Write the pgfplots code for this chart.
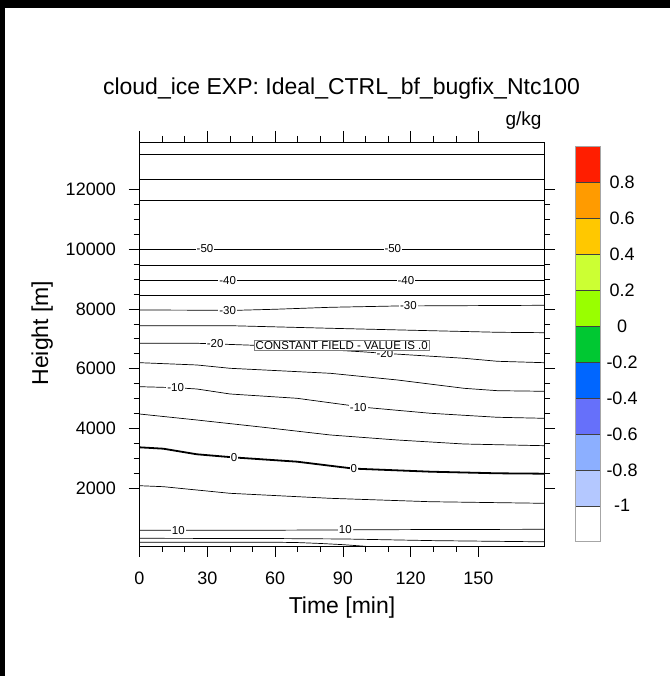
\documentclass[border=0pt]{standalone}
\usepackage{fontspec}
\setmainfont{Liberation Sans}
\usepackage{pgfplots}
\pgfplotsset{compat=1.18}

\definecolor{cbA}{RGB}{255,255,255}
\definecolor{cbB}{RGB}{180,200,255}
\definecolor{cbC}{RGB}{140,175,255}
\definecolor{cbD}{RGB}{102,112,250}
\definecolor{cbE}{RGB}{0,102,255}
\definecolor{cbF}{RGB}{0,200,50}
\definecolor{cbG}{RGB}{153,255,0}
\definecolor{cbH}{RGB}{204,255,51}
\definecolor{cbI}{RGB}{255,200,0}
\definecolor{cbJ}{RGB}{255,155,0}
\definecolor{cbK}{RGB}{255,30,0}

\newcommand{\clab}{\fontsize{11.5}{11.5}\selectfont}

\begin{document}
\begin{tikzpicture}[x=1pt,y=1pt]
\fill[black] (0,0) rectangle (670,676);
\fill[white] (4.5,0) rectangle (670,668);

\begin{axis}[
  at={(139.5pt,130pt)}, anchor=south west,
  width=404.5pt, height=404pt, scale only axis,
  xmin=0, xmax=179, ymin=50, ymax=13600,
  scaled x ticks=false, scaled y ticks=false,
  xtick={0,30,60,90,120,150}, xticklabels={0,30,60,90,120,150},
  ytick={2000,4000,6000,8000,10000,12000},
  yticklabels={2000,4000,6000,8000,10000,12000},
  minor x tick num=2, minor y tick num=3,
  tick align=outside,
  major tick length=11pt, minor tick length=6pt,
  every tick/.style={black, line width=0.6pt},
  axis line style={line width=0.8pt},
  tick label style={font=\fontsize{18}{18}\selectfont},
  xticklabel style={inner sep=0pt, anchor=north, yshift=-14.7pt},
  yticklabel style={inner sep=0pt, anchor=east, xshift=-12.5pt},
  clip=true,
]
% upper flat isotherms
\addplot[black, line width=0.8pt] coordinates {(0,13198) (179,13198)};
\addplot[black, line width=0.7pt] coordinates {(0,12349) (179,12349)};
\addplot[black, line width=0.7pt] coordinates {(0,11631) (179,11631)};
\addplot[black, line width=0.7pt] coordinates {(0,10011) (179,10011)}; % -50
\addplot[black, line width=0.7pt] coordinates {(0,9475) (179,9475)};
\addplot[black, line width=0.7pt] coordinates {(0,8962) (179,8962)};   % -40
\addplot[black, line width=0.7pt] coordinates {(0,8468) (179,8468)};
% -30
\addplot[black, line width=0.7pt] coordinates {(0,7965) (43,7955) (60,7990) (84.5,8056) (114,8100) (179,8123)};
% -25
\addplot[black, line width=0.7pt] coordinates {(0,7439) (40,7439) (84.5,7352) (128.8,7271) (158.4,7218) (179,7204)};
% -20
\addplot[black, line width=0.7pt] coordinates {(0,6849) (25.4,6849) (40.1,6810) (50.5,6782) (99.3,6560) (108.1,6513) (143.6,6346) (158.4,6245) (179,6198)};
% -15
\addplot[black, line width=0.7pt] coordinates {(0,6198) (25.4,6121) (40.1,6010) (84.5,5842) (114.1,5618) (143.6,5339) (158.4,5259) (179,5239)};
% -10
\addplot[black, line width=0.7pt] coordinates {(0,5393) (16,5360) (25.4,5316) (40.1,5148) (69.7,5004) (99.3,4702) (128.8,4501) (158.4,4367) (179,4333)};
% -5
\addplot[black, line width=0.7pt] coordinates {(0,4477) (25.4,4276) (54.9,4031) (84.5,3773) (114.1,3605) (143.6,3471) (179,3414)};
% 0 (thick)
\addplot[black, line width=1.8pt] coordinates {(0,3360) (10.6,3313) (25.4,3126) (41.9,3020) (69.7,2878) (94.8,2645) (128.8,2542) (158.4,2488) (179,2475)};
% 5
\addplot[black, line width=0.7pt] coordinates {(0,2072) (10.6,2039) (40.1,1817) (84.5,1649) (128.8,1535) (179,1482)};
% 10
\addplot[black, line width=0.7pt] coordinates {(0,577) (60,580) (120,600) (179,610)};
% 15
\addplot[black, line width=0.7pt] coordinates {(0,308) (60,300) (91,285) (130,230) (179,190)};
% 20
\addplot[black, line width=0.7pt] coordinates {(0,174) (62,174) (70,165) (80,135) (90,95) (100,40)};

% contour labels
\node[fill=white, inner sep=1pt, font=\clab] at (axis cs:29,10011) {-50};
\node[fill=white, inner sep=1pt, font=\clab] at (axis cs:112.1,10011) {-50};
\node[fill=white, inner sep=1pt, font=\clab] at (axis cs:39,8962) {-40};
\node[fill=white, inner sep=1pt, font=\clab] at (axis cs:117.9,8962) {-40};
\node[fill=white, inner sep=1pt, font=\clab] at (axis cs:39,7960) {-30};
\node[fill=white, inner sep=1pt, font=\clab] at (axis cs:119,8100) {-30};
\node[fill=white, inner sep=1pt, font=\clab] at (axis cs:33.5,6825) {-20};
\node[fill=white, inner sep=1pt, font=\clab] at (axis cs:108.6,6513) {-20};
\node[fill=white, inner sep=1pt, font=\clab] at (axis cs:16,5360) {-10};
\node[fill=white, inner sep=1pt, font=\clab] at (axis cs:96.8,4680) {-10};
\node[fill=white, inner sep=1pt, font=\clab] at (axis cs:41.9,3020) {0};
\node[fill=white, inner sep=1pt, font=\clab] at (axis cs:94.8,2645) {0};
\node[fill=white, inner sep=1pt, font=\clab] at (axis cs:17.2,578) {10};
\node[fill=white, inner sep=1pt, font=\clab] at (axis cs:91.1,590) {10};

\node[draw=gray, line width=0.6pt, fill=white, inner sep=1.3pt, font=\clab] at (axis cs:89.5,6782) {CONSTANT FIELD - VALUE IS .0};
\end{axis}

% colour bar
\begin{axis}[
  at={(575.7pt,134.3pt)}, anchor=south west,
  width=24.3pt, height=395pt, scale only axis,
  xmin=0, xmax=1, ymin=0, ymax=11,
  xtick=\empty,
  ytick={1,2,3,4,5,6,7,8,9,10},
  yticklabels={-1,-0.8,-0.6,-0.4,-0.2,0,0.2,0.4,0.6,0.8},
  yticklabel pos=right, ytick pos=right,
  major tick length=0pt,
  axis line style={draw=gray!70, line width=0.6pt},
  yticklabel style={font=\fontsize{18}{18}\selectfont, anchor=center, xshift=22pt, inner sep=0pt},
  axis on top,
]
\addplot[fill=cbA, draw=none] coordinates {(0,0) (1,0) (1,1) (0,1) (0,0)};
\addplot[fill=cbB, draw=none] coordinates {(0,1) (1,1) (1,2) (0,2) (0,1)};
\addplot[fill=cbC, draw=none] coordinates {(0,2) (1,2) (1,3) (0,3) (0,2)};
\addplot[fill=cbD, draw=none] coordinates {(0,3) (1,3) (1,4) (0,4) (0,3)};
\addplot[fill=cbE, draw=none] coordinates {(0,4) (1,4) (1,5) (0,5) (0,4)};
\addplot[fill=cbF, draw=none] coordinates {(0,5) (1,5) (1,6) (0,6) (0,5)};
\addplot[fill=cbG, draw=none] coordinates {(0,6) (1,6) (1,7) (0,7) (0,6)};
\addplot[fill=cbH, draw=none] coordinates {(0,7) (1,7) (1,8) (0,8) (0,7)};
\addplot[fill=cbI, draw=none] coordinates {(0,8) (1,8) (1,9) (0,9) (0,8)};
\addplot[fill=cbJ, draw=none] coordinates {(0,9) (1,9) (1,10) (0,10) (0,9)};
\addplot[fill=cbK, draw=none] coordinates {(0,10) (1,10) (1,11) (0,11) (0,10)};
\pgfplotsinvokeforeach{1,...,10}{
  \addplot[gray!50!black, line width=0.5pt] coordinates {(0,#1) (1,#1)};
}
\end{axis}

% titles and labels
\node[anchor=base, font=\fontsize{23}{23}\selectfont] at (341.5,581) {cloud\_ice EXP: Ideal\_CTRL\_bf\_bugfix\_Ntc100};
\node[anchor=base east, font=\fontsize{19}{19}\selectfont] at (545,550) {g/kg};
\node[anchor=base, font=\fontsize{23}{23}\selectfont] at (342,62) {Time [min]};
\node[anchor=base, rotate=90, font=\fontsize{23}{23}\selectfont] at (48,343) {Height [m]};

\pgfresetboundingbox
\path[use as bounding box] (0,0) rectangle (670,676);
\end{tikzpicture}
\end{document}
